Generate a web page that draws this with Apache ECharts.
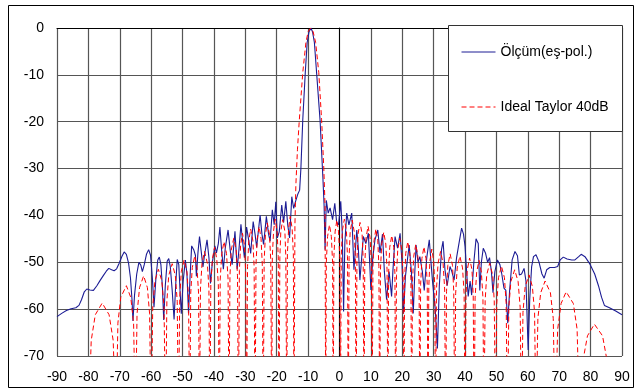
<!DOCTYPE html>
<html>
<head>
<meta charset="utf-8">
<script src="https://cdn.jsdelivr.net/npm/echarts@6/dist/echarts.min.js"></script>
<style>
  html, body { margin: 0; padding: 0; background: #fff; }
  #chart { width: 640px; height: 390px; }
</style>
</head>
<body>
<div id="chart"></div>
<script>
// angle (deg) / level (dB)
var seriesNames = ['Ölçüm(eş-pol.)', 'Ideal Taylor 40dB'];
var xTicks = [-90, 90, 10];
var yTicks = [-70, 0, 10];

var measured = [
    [-90,-61.6],[-88.5,-60.9],[-87,-60.3],[-85.5,-59.9],[-84,-59.7],[-83,-59.2],[-82.2,-58],[-81.3,-56.3],[-80.5,-55.7],
    [-79.5,-55.9],[-78.4,-56],[-77.3,-55],[-76.2,-53.8],[-75.2,-52.8],[-74.3,-51.9],[-73.5,-51.3],[-72.6,-51.6],[-71.8,-51.8],
    [-71,-51.4],[-70.2,-50.2],[-69.3,-48.7],[-68.6,-47.8],[-67.9,-48.3],[-67.2,-50.2],[-66.6,-53.3],[-66.1,-58],[-65.8,-62.5],
    [-65.3,-57],[-64.6,-52.5],[-63.9,-50],[-63.3,-50.6],[-62.8,-52],[-62.2,-50.5],[-61.5,-48.3],[-60.8,-47.3],[-60.2,-48.5],
    [-59.6,-53.5],[-59.1,-59.6],[-58.5,-53.5],[-57.9,-49.5],[-57.4,-48.9],[-56.9,-50.5],[-56.4,-55.5],[-56,-62.3],[-55.5,-55],
    [-54.9,-49.8],[-54.4,-49.2],[-53.9,-51],[-53.3,-56],[-52.7,-62.2],[-52.2,-55],[-51.7,-49.4],[-51.2,-50.5],[-50.8,-56],
    [-50.4,-61],[-49.8,-54],[-49.1,-49.5],[-48.6,-52.5],[-48.1,-60.9],[-47.6,-53],[-47.1,-46.5],[-46.4,-47.4],[-45.9,-48.5],
    [-45.6,-53],[-45.1,-48],[-44.6,-44.5],[-44,-48],[-43.5,-51],[-43,-48.5],[-42.2,-45.2],[-41.6,-49],[-41.1,-54.5],
    [-40.5,-50],[-39.7,-46.5],[-39.2,-48],[-38.6,-46],[-38.1,-42.5],[-37.6,-47],[-37,-51.5],[-36.4,-47],[-35.5,-43.1],
    [-34.8,-47.5],[-34.2,-50.5],[-33.3,-43.4],[-32.6,-51.5],[-32,-47],[-31.4,-41.9],[-30.8,-46],[-30.3,-49],[-29.6,-42.5],
    [-29,-45],[-28.3,-48.1],[-27.5,-41.3],[-26.9,-44],[-26.4,-46.8],[-25.3,-39.9],[-24.7,-44],[-24.2,-46.2],[-23.3,-40.2],
    [-22.6,-44],[-22.1,-45.5],[-21.4,-38.8],[-20.8,-42],[-20.3,-37.1],[-19.8,-44.8],[-19.2,-43.5],[-18.4,-37.8],[-17.8,-41.5],
    [-17.1,-37],[-16.5,-42],[-15.9,-44.8],[-15.2,-36],[-14.6,-38.5],[-14,-37],[-13.3,-35.5],[-12.7,-34.6],
    [-12.3,-30],[-11.7,-19.6],[-10.9,-9.5],[-10.3,-3.1],[-9.7,-0.8],[-9.1,0],[-8.6,-0.8],[-8,-3.1],[-7.3,-9.5],[-6.2,-19.6],
    [-5.3,-31.8],[-4.9,-38],[-4.6,-47.3],[-4.2,-36.8],[-3.6,-39.5],[-3,-38.4],[-2.2,-40.9],[-1.5,-37.4],[-0.9,-41.5],
    [-0.3,-42],[0.4,-37],[0.9,-44],[1.3,-60.5],[1.7,-46],[2.3,-39.5],[3,-42],[3.9,-39.5],[4.6,-51.6],[5.5,-43.1],[6,-47],
    [6.5,-53.8],[7.6,-44.5],[8.4,-46],[9.2,-43.8],[10,-55.9],[10.6,-49],[11.3,-45.2],[12.2,-43.1],[12.9,-48],[13.7,-44],
    [14.3,-52],[15,-58],[15.8,-52],[16.6,-57.3],[17,-52],[17.7,-44.5],[18.5,-47],[19.3,-43.8],[19.9,-50],[20.4,-61],
    [21,-53],[22.2,-46.3],[22.9,-52],[23.5,-60.9],[24,-52],[24.4,-46.3],[25,-50],[25.6,-48.8],[26.4,-52],[27,-56],
    [27.8,-49],[28.6,-45.2],[29.6,-53.8],[30.5,-60],[31.2,-68.4],[31.8,-55],[32.5,-47.3],[33,-45.5],[33.6,-51.6],[34.3,-55],
    [35.2,-50.9],[35.8,-52],[36.5,-53.8],[37.3,-49],[37.9,-46.6],[38.9,-42.7],[39.5,-44],[40,-46.6],[40.5,-52],[41,-57.3],
    [41.6,-54],[42.1,-57],[42.8,-50],[43.5,-45],[44.2,-46],[44.7,-56],[45.2,-50],[45.8,-47],[46.5,-48],[47.2,-50],
    [47.8,-49],[48.4,-52],[48.9,-56.5],[49.5,-52],[50.3,-49.5],[51.1,-50.5],[51.7,-52.5],[52.4,-55.5],[53,-56],[53.6,-63],
    [54.2,-56],[55,-49.5],[55.9,-47.7],[56.7,-48.6],[57.3,-52.7],[58,-52.5],[58.8,-51.3],[59.4,-54],[60.1,-68.7],[60.6,-58],
    [61.2,-51],[61.8,-48.8],[62.6,-48.4],[63.5,-49.8],[64.5,-52.5],[65.2,-53.4],[66,-51.6],[67,-51.1],[68.5,-51.1],
    [69.5,-50.9],[70.3,-49.5],[71.3,-48.9],[72.5,-49.3],[74,-49.5],[75,-49.5],[76.2,-48.8],[77,-48.3],[78.2,-48.8],
    [79.8,-50.4],[81.3,-52.5],[82.5,-55],[83.5,-57.5],[84.4,-59.2],[86,-59.7],[88,-60.4],[90,-61.2]
];

// nulls go below the axis (-85) and get clipped at -70
var taylor = [
    [-80,-85],[-79.1,-66.7],[-77.8,-61.2],[-75.6,-58.7],[-73.4,-61.2],[-72.1,-66.7],
    [-71.2,-85],[-70.6,-63],[-69.7,-57.5],[-67.9,-55],[-66.5,-57.5],[-65.6,-63],
    [-65,-85],[-64.5,-61],[-63.7,-55.4],[-62.4,-52.9],[-61.2,-55.4],[-60.5,-61],
    [-60,-85],[-59.5,-59.5],[-58.8,-54],[-57.7,-51.5],[-56.6,-54],[-55.9,-59.5],
    [-55.4,-85],[-55,-58.3],[-54.4,-52.8],[-53.3,-50.3],[-52.3,-52.8],[-51.7,-58.3],
    [-51.3,-85],[-50.9,-57.5],[-50.4,-52],[-49.5,-49.5],[-48.6,-52],[-48.1,-57.5],
    [-47.7,-85],[-47.4,-56.6],[-46.9,-51.1],[-46.1,-48.6],[-45.4,-51.1],[-44.9,-56.6],
    [-44.6,-85],[-44.3,-55.7],[-43.8,-50.2],[-43,-47.7],[-42.1,-50.2],[-41.6,-55.7],
    [-41.3,-85],[-41,-54.8],[-40.5,-49.3],[-39.8,-46.8],[-39.1,-49.3],[-38.6,-54.8],
    [-38.3,-85],[-38,-53.6],[-37.5,-48.1],[-36.8,-45.6],[-36,-48.1],[-35.5,-53.6],
    [-35.2,-85],[-34.9,-52.9],[-34.5,-47.4],[-33.7,-44.9],[-32.9,-47.4],[-32.5,-52.9],
    [-32.2,-85],[-31.9,-51.8],[-31.5,-46.3],[-30.9,-43.8],[-30.3,-46.3],[-29.9,-51.8],
    [-29.6,-85],[-29.3,-50.9],[-28.9,-45.4],[-28.3,-42.9],[-27.6,-45.4],[-27.2,-50.9],
    [-26.9,-85],[-26.6,-50.4],[-26.2,-44.9],[-25.6,-42.4],[-25,-44.9],[-24.6,-50.4],
    [-24.3,-85],[-24,-49.6],[-23.6,-44.1],[-23,-41.6],[-22.3,-44.1],[-21.9,-49.6],
    [-21.6,-85],[-21.4,-48.8],[-21,-43.3],[-20.5,-40.8],[-19.9,-43.3],[-19.5,-48.8],
    [-19.3,-85],[-19,-48.9],[-18.7,-43.4],[-18.1,-40.9],[-17.4,-43.4],[-17.1,-48.9],
    [-16.8,-85],[-16.6,-48.2],[-16.2,-42.7],[-15.7,-40.2],[-15.1,-42.7],[-14.7,-48.2],
    [-14.5,-85],[-14.2,-42],[-13.9,-33.5],[-13.4,-26],[-12.8,-19.6],[-11.7,-9.5],[-10.7,-3.1],[-10,-0.8],[-9.2,0],
    [-8.4,-0.8],[-7.6,-3.1],[-6.6,-9.5],[-5.7,-19.6],[-5,-30],[-4.6,-38],
    [-4.4,-85],[-4.2,-50],[-3.8,-44.5],[-3.2,-42],[-2.6,-44.5],[-2.2,-50],
    [-2,-85],[-1.8,-49],[-1.4,-43.5],[-0.85,-41],[-0.3,-43.5],[0.1,-49],
    [0.3,-85],[0.55,-48.8],[0.9,-43.3],[1.55,-40.8],[2.2,-43.3],[2.55,-48.8],
    [2.8,-85],[3.05,-49],[3.4,-43.5],[4.05,-41],[4.7,-43.5],[5.05,-49],
    [5.3,-85],[5.55,-49.5],[5.9,-44],[6.55,-41.5],[7.2,-44],[7.55,-49.5],
    [7.8,-85],[8.05,-50.3],[8.45,-44.8],[9.1,-42.3],[9.75,-44.8],[10.15,-50.3],
    [10.4,-85],[10.65,-50.9],[11,-45.4],[11.6,-42.9],[12.2,-45.4],[12.55,-50.9],
    [12.8,-85],[13.05,-51.6],[13.45,-46.1],[14.1,-43.6],[14.75,-46.1],[15.15,-51.6],
    [15.4,-85],[15.65,-52.3],[16,-46.8],[16.65,-44.3],[17.3,-46.8],[17.65,-52.3],
    [17.9,-85],[18.15,-52.9],[18.55,-47.4],[19.2,-44.9],[19.85,-47.4],[20.25,-52.9],
    [20.5,-85],[20.75,-53.6],[21.1,-48.1],[21.75,-45.6],[22.4,-48.1],[22.75,-53.6],
    [23,-85],[23.25,-54.2],[23.65,-48.7],[24.3,-46.2],[24.95,-48.7],[25.35,-54.2],
    [25.6,-85],[25.85,-54.7],[26.25,-49.2],[26.9,-46.7],[27.55,-49.2],[27.95,-54.7],
    [28.2,-85],[28.45,-55.2],[28.8,-49.7],[29.4,-47.2],[30,-49.7],[30.35,-55.2],
    [30.6,-85],[30.9,-55.7],[31.4,-50.2],[32.2,-47.7],[33,-50.2],[33.5,-55.7],
    [33.8,-85],[34.1,-56.2],[34.5,-50.7],[35.25,-48.2],[36,-50.7],[36.4,-56.2],
    [36.7,-85],[37,-56.7],[37.5,-51.2],[38.35,-48.7],[39.2,-51.2],[39.7,-56.7],
    [40,-85],[40.3,-57.1],[40.7,-51.6],[41.45,-49.1],[42.2,-51.6],[42.6,-57.1],
    [42.9,-85],[43.2,-57.6],[43.7,-52.1],[44.45,-49.6],[45.2,-52.1],[45.7,-57.6],
    [46,-85],[46.4,-58.2],[46.9,-52.7],[47.85,-50.2],[48.8,-52.7],[49.3,-58.2],
    [49.7,-85],[50.1,-58.8],[50.65,-53.3],[51.6,-50.8],[52.55,-53.3],[53.1,-58.8],
    [53.5,-85],[53.95,-59.6],[54.6,-54.1],[55.8,-51.6],[56.9,-54.1],[57.55,-59.6],
    [58,-85],[58.45,-60.7],[59.15,-55.2],[60.4,-52.7],[61.45,-55.2],[62.15,-60.7],
    [62.6,-85],[63.2,-62],[64.1,-56.5],[65.5,-54],[67.2,-56.5],[68.1,-62],
    [68.7,-85],[69.5,-64.3],[70.6,-58.8],[72.2,-56.3],[74.5,-58.8],[75.7,-64.3],
    [76.5,-85],[77.5,-71.2],[79,-65.7],[81.2,-63.2],[83.8,-65.7],[85.3,-71.2],[86.3,-85]
];

var chart = echarts.init(document.getElementById('chart'));
var font = 'Liberation Sans, Arial, sans-serif';
var gridLine = { show: true, lineStyle: { color: '#555', width: 1.2 } };

var option = {
    animation: false,
    backgroundColor: '#fff',
    textStyle: { fontFamily: font },
    grid: { left: 57, right: 18, top: 28, bottom: 34 },
    graphic: [
        { type: 'rect', z: -1, shape: { x: 8.5, y: 5.5, width: 625, height: 382 },
          style: { fill: 'none', stroke: '#000', lineWidth: 1 } },
        { type: 'rect', z: 100, shape: { x: 448.5, y: 25.5, width: 174, height: 106 },
          style: { fill: '#fff', stroke: '#333', lineWidth: 1 } }
    ],
    legend: {
        z: 200,
        orient: 'vertical',
        left: 461, top: 45,
        padding: 0,
        itemWidth: 34, itemHeight: 14, itemGap: 41,
        itemStyle: { opacity: 0 },
        lineStyle: { width: 1 },
        textStyle: { fontSize: 14, color: '#000', fontFamily: font },
        data: seriesNames
    },
    xAxis: {
        type: 'value',
        min: xTicks[0], max: xTicks[1], interval: xTicks[2],
        axisLine: { lineStyle: { color: '#000', width: 1 } },
        axisTick: { show: false },
        axisLabel: { color: '#000', fontSize: 14, margin: 14 },
        splitLine: gridLine
    },
    yAxis: {
        type: 'value',
        min: yTicks[0], max: yTicks[1], interval: yTicks[2],
        axisLine: { show: true, lineStyle: { color: '#000', width: 1 } },
        axisTick: { show: false },
        axisLabel: { color: '#000', fontSize: 14, margin: 13 },
        splitLine: gridLine
    },
    series: [
        {
            name: seriesNames[0],
            type: 'line',
            symbol: 'none',
            data: measured,
            lineStyle: { color: '#1c1c94', width: 1.1 },
            itemStyle: { color: '#1c1c94' }
        },
        {
            name: seriesNames[1],
            type: 'line',
            symbol: 'none',
            data: taylor,
            lineStyle: { color: '#ff0000', width: 1, type: [5, 3] },
            itemStyle: { color: '#ff0000' }
        }
    ]
};

chart.setOption(option);
window.addEventListener('resize', function () {
    chart.resize();
});
</script>
</body>
</html>
